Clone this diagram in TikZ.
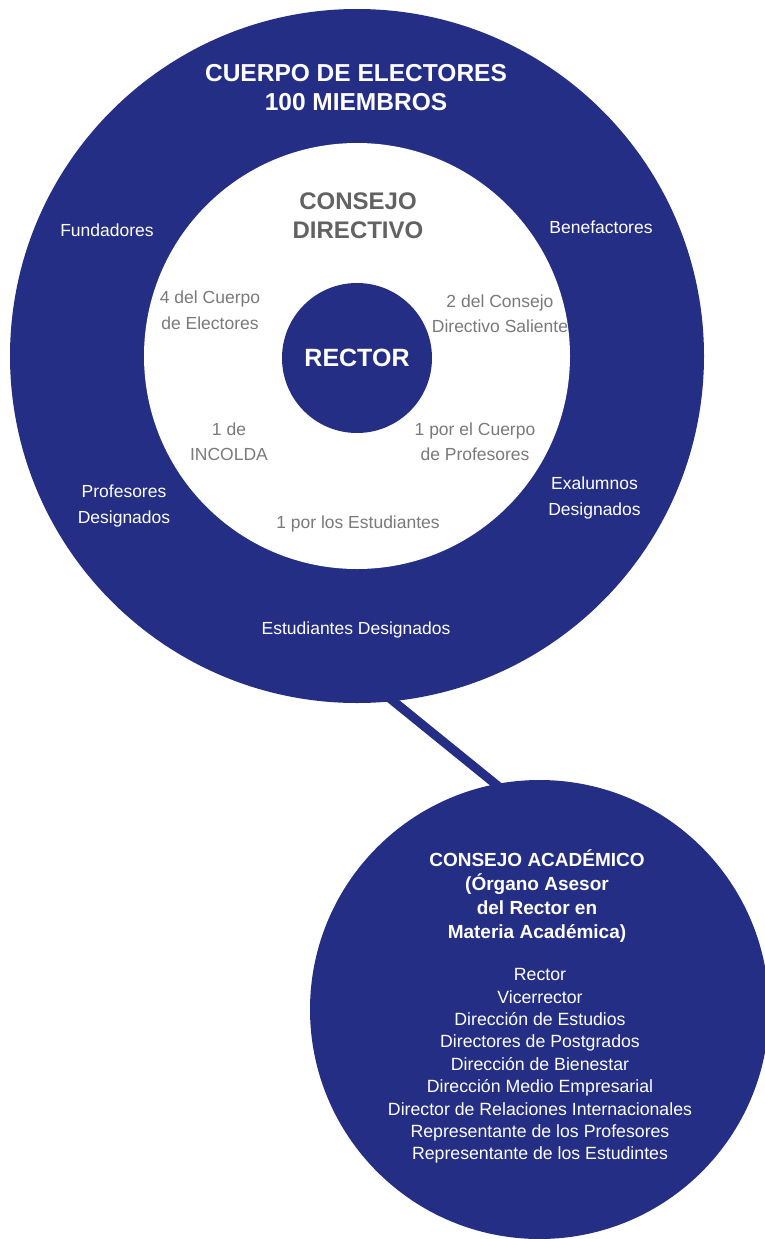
\documentclass[tikz,border=0pt]{standalone}
\usepackage{fontspec}
\setmainfont{Liberation Sans}
\usepackage{tikz}
\definecolor{azul}{RGB}{37,46,133}
\definecolor{grisA}{RGB}{122,122,122}
\definecolor{grisB}{RGB}{98,98,98}

\tikzset{
  disco/.style={circle, fill=azul, inner sep=0pt, outer sep=0pt},
  anillo/.style={text=white, align=center, font=\fontsize{17.5}{25.5}\selectfont},
  interior/.style={text=grisA, align=center, font=\fontsize{17.5}{25.5}\selectfont},
  lista/.style={text=white, align=center, font=\fontsize{17.7}{22.4}\selectfont},
  titulo/.style={text=white, align=center, font=\bfseries\fontsize{19}{24.3}\selectfont}
}

\begin{document}
\begin{tikzpicture}[x=1pt, y=-1pt]
\useasboundingbox (0,0) rectangle (765,1239);
% circulos
\node[disco, minimum size=694pt] (elect) at (357,356) {};
\node[disco, fill=white, minimum size=426pt] (directivo) at (357,356) {};
\node[disco, minimum size=150pt, text=white, font=\bfseries\fontsize{25}{28}\selectfont] (rector) at (357,358) {RECTOR};
\node[disco, minimum size=459pt] (acad) at (539.5,1009.5) {};
\draw[azul, line width=9pt, shorten <=-8pt, shorten >=-8pt] (elect.-84) -- (acad.101);

% cuerpo de electores
\node[anillo, font=\bfseries\fontsize{24.5}{29}\selectfont] (cuerpo) at (356,88) {CUERPO DE ELECTORES\\100 MIEMBROS};
\foreach \nombre/\x/\y/\txt in {fund/107/230/Fundadores, bene/601/227.5/Benefactores,
  prof/124/506/{Profesores\\Designados}, exal/594.5/498/{Exalumnos\\Designados},
  estu/356/630/{Estudiantes Designados}}
  \node[anillo] (\nombre) at (\x,\y) {\txt};

% consejo directivo
\node[interior, text=grisB, font=\bfseries\fontsize{24}{28.6}\selectfont] (consejo) at (358,216) {CONSEJO\\DIRECTIVO};
\foreach \nombre/\x/\y/\txt in {cuatro/210/310/{4 del Cuerpo\\de Electores},
  dos/500/313.7/{2 del Consejo\\Directivo Saliente}, incolda/229/441.5/{1 de\\INCOLDA},
  profe/475/441.5/{1 por el Cuerpo\\de Profesores}, estud/358/524/{1 por los Estudiantes}}
  \node[interior] (\nombre) at (\x,\y) {\txt};

% consejo academico
\node[titulo] (acadtit) at (537,896) {CONSEJO ACADÉMICO\\(Órgano Asesor\\del Rector en\\Materia Académica)};
\node[lista] (acadlista) at (540,1066) {Rector\\Vicerrector\\Dirección de Estudios\\Directores de Postgrados\\Dirección de Bienestar\\Dirección Medio Empresarial\\Director de Relaciones Internacionales\\Representante de los Profesores\\Representante de los Estudintes};
\end{tikzpicture}
\end{document}
